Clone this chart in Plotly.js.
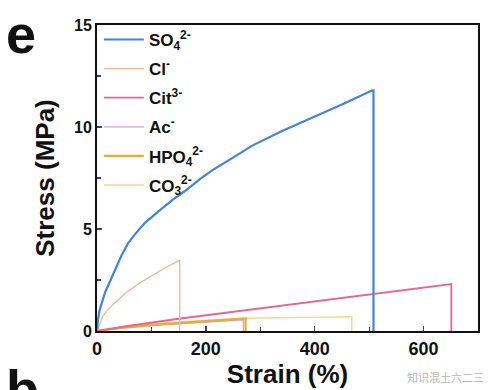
<!DOCTYPE html>
<html>
<head>
<meta charset="utf-8">
<script src="https://cdn.plot.ly/plotly-3.0.1.min.js"></script>
<style>html,body{margin:0;padding:0;background:#fff;}#chart{width:492px;height:390px;}</style>
</head>
<body>
<div id="chart"></div>
<script>
const names = ['SO<sub>4</sub><sup>2-</sup>','Cl<sup>-</sup>','Cit<sup>3-</sup>','Ac<sup>-</sup>','HPO<sub>4</sub><sup>2-</sup>','CO<sub>3</sub><sup>2-</sup>'];
const colors = ['#3f86d8','#f2b49a','#e9648f','#c7a2d6','#e6ad3a','#f6d88e'];
const so4Strain = [0, 2, 5, 10, 15, 25, 35, 45, 57, 70, 88, 105, 119, 140, 161, 189, 213, 250, 286, 340, 391, 450, 506, 508, 508];
const so4Stress = [0, 0.6, 1.05, 1.5, 1.9, 2.5, 3.1, 3.7, 4.3, 4.75, 5.3, 5.7, 6.0, 6.45, 6.85, 7.45, 7.9, 8.5, 9.1, 9.8, 10.4, 11.1, 11.8, 11.8, 0];
const clStrain = [0, 5, 10, 20, 35, 50, 75, 100, 125, 151, 152, 152];
const clStress = [0, 0.4, 0.7, 1.05, 1.45, 1.8, 2.3, 2.7, 3.1, 3.45, 3.45, 0];
const citStrain = [0, 50, 150, 300, 500, 650, 651, 651];
const citStress = [0, 0.22, 0.6, 1.1, 1.78, 2.3, 2.3, 0];
const acStrain = [0, 50, 120, 200, 268, 269, 269];
const acStress = [0, 0.15, 0.3, 0.45, 0.55, 0.55, 0];
const hpoStrain = [0, 50, 101, 180, 272, 273, 273];
const hpoStress = [0, 0.17, 0.3, 0.46, 0.62, 0.62, 0];
const co3Strain = [0, 50, 100, 200, 273, 380, 467, 468, 468];
const co3Stress = [0, 0.2, 0.35, 0.53, 0.62, 0.67, 0.7, 0.7, 0];

const xs = [so4Strain, clStrain, citStrain, acStrain, hpoStrain, co3Strain];
const ys = [so4Stress, clStress, citStress, acStress, hpoStress, co3Stress];
const widths = [2.2, 1.3, 1.8, 1.3, 2.2, 1.5];
const order = [5, 3, 4, 2, 1, 0];
const traces = order.map(i => ({
  x: xs[i], y: ys[i], type: 'scatter', mode: 'lines', name: names[i], legendgroup: 'g' + i,
  line: {color: colors[i], width: widths[i]}, legendrank: i + 1
}));

const layout = {
  width: 492, height: 390,
  margin: {l: 97, r: 14, t: 25, b: 59},
  paper_bgcolor: '#fff', plot_bgcolor: '#fff',
  font: {family: 'Liberation Sans, Arial, sans-serif', color: '#111'},
  showlegend: true,
  legend: {x: 0.005, y: 1.01, xanchor: 'left', yanchor: 'top', bgcolor: 'rgba(0,0,0,0)',
    font: {size: 17, weight: 'bold', color: '#111'}, tracegroupgap: 4, itemwidth: 40},
  xaxis: {range: [0, 700], tickvals: [0, 200, 400, 600], ticks: 'inside', ticklen: 5, tickwidth: 1.5,
    minor: {tickvals: [100, 300, 500], ticks: 'inside', ticklen: 4, tickwidth: 1.2},
    showline: true, linecolor: '#111', linewidth: 2, mirror: true, showgrid: false, zeroline: false,
    tickfont: {size: 18, weight: 'bold'},
    title: {text: 'Strain (%)', font: {size: 26, weight: 'bold'}, standoff: 2}},
  yaxis: {range: [0, 15], tickvals: [0, 5, 10, 15], ticks: 'inside', ticklen: 5, tickwidth: 1.5,
    minor: {tickvals: [2.5, 7.5, 12.5], ticks: 'inside', ticklen: 4, tickwidth: 1.2},
    showline: true, linecolor: '#111', linewidth: 2, mirror: true, showgrid: false, zeroline: false,
    tickfont: {size: 16, weight: 'bold'},
    title: {text: 'Stress (MPa)', font: {size: 26, weight: 'bold'}, standoff: 12}},
  annotations: [
    {text: 'e', xref: 'paper', yref: 'paper', x: -0.245, y: 1.075, xanchor: 'left', yanchor: 'top',
      showarrow: false, font: {size: 54, weight: 'bold', color: '#111'}},
    {text: 'b', xref: 'paper', yref: 'paper', x: -0.245, y: -0.085, xanchor: 'left', yanchor: 'top',
      showarrow: false, font: {size: 54, weight: 'bold', color: '#111'}},
    {text: '知识混土六二三', xref: 'paper', yref: 'paper', x: 1.02, y: -0.15, xanchor: 'right', yanchor: 'middle',
      showarrow: false, font: {size: 11, color: '#b8b8b8', family: 'Noto Sans CJK SC'}}
  ]
};
Plotly.newPlot('chart', traces, layout, {displayModeBar: false, staticPlot: true});
</script>
</body>
</html>
